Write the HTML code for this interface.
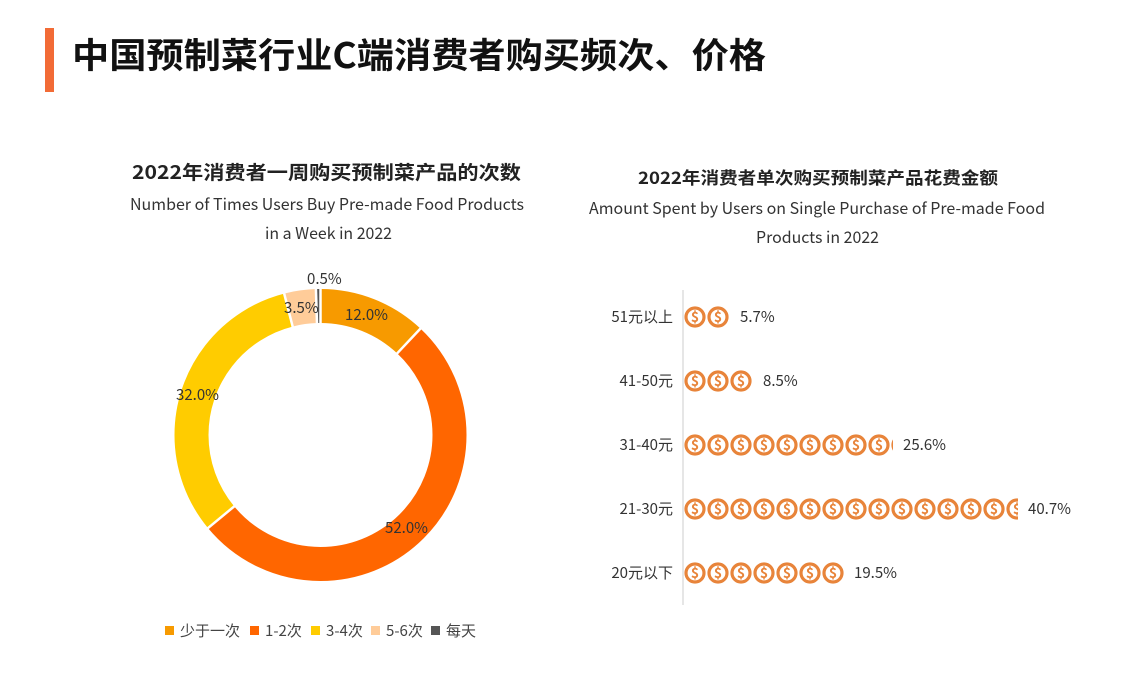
<!DOCTYPE html>
<html><head><meta charset="utf-8"><style>
body{margin:0;background:#fff;}
svg{display:block;font-family:"Noto Sans CJK SC","Liberation Sans",sans-serif;}
</style></head><body>
<svg width="1133" height="685" viewBox="0 0 1133 685" xmlns="http://www.w3.org/2000/svg">
<defs>
<clipPath id="c3"><rect x="680" y="430" width="213" height="30"/></clipPath>
<clipPath id="c4"><rect x="680" y="494" width="338" height="30"/></clipPath>
</defs>
<rect x="45" y="28" width="9" height="64" fill="#f26b36"/>
<text x="72" y="68" font-size="35" font-weight="bold" fill="#111" textLength="694" lengthAdjust="spacingAndGlyphs">中国预制菜行业C端消费者购买频次、价格</text>

<text x="132" y="179" font-size="19" font-weight="bold" fill="#222" textLength="389" lengthAdjust="spacingAndGlyphs">2022年消费者一周购买预制菜产品的次数</text>
<text x="130" y="210" font-size="16" fill="#333" textLength="394" lengthAdjust="spacingAndGlyphs">Number of Times Users Buy Pre-made Food Products</text>
<text x="265" y="239" font-size="16" fill="#333" textLength="127" lengthAdjust="spacingAndGlyphs">in a Week in 2022</text>

<g transform="translate(320.5,435) rotate(-90)" fill="none" stroke-width="34">
<circle r="129" stroke="#f79a00" stroke-dasharray="97.26 810.53" stroke-dashoffset="0"/>
<circle r="129" stroke="#ff6600" stroke-dasharray="421.48 810.53" stroke-dashoffset="-97.26"/>
<circle r="129" stroke="#ffcc00" stroke-dasharray="259.37 810.53" stroke-dashoffset="-518.74"/>
<circle r="129" stroke="#ffcc99" stroke-dasharray="28.37 810.53" stroke-dashoffset="-778.11"/>
<circle r="129" stroke="#555" stroke-dasharray="4.05 810.53" stroke-dashoffset="-806.48"/>
</g>
<g transform="translate(320.5,435)" stroke="#fff" stroke-width="2.5">
<line x1="0" y1="-110" x2="0" y2="-148"/>
<line x1="0" y1="-110" x2="0" y2="-148" transform="rotate(43.2)"/>
<line x1="0" y1="-110" x2="0" y2="-148" transform="rotate(230.4)"/>
<line x1="0" y1="-110" x2="0" y2="-148" transform="rotate(345.6)"/>
<line x1="0" y1="-110" x2="0" y2="-148" transform="rotate(358.2)"/>
</g>
<g font-size="15" fill="#333">
<text x="307" y="284">0.5%</text>
<text x="284" y="313">3.5%</text>
<text x="345" y="320">12.0%</text>
<text x="176" y="400">32.0%</text>
<text x="385" y="533">52.0%</text>
</g>
<g font-size="15" fill="#444">
<rect x="165" y="626" width="9" height="9" fill="#f79a00"/><text x="180" y="636">少于一次</text>
<rect x="250" y="626" width="9" height="9" fill="#ff6600"/><text x="265" y="636">1-2次</text>
<rect x="311" y="626" width="9" height="9" fill="#ffcc00"/><text x="326" y="636">3-4次</text>
<rect x="371" y="626" width="9" height="9" fill="#ffcc99"/><text x="386" y="636">5-6次</text>
<rect x="431" y="626" width="9" height="9" fill="#555"/><text x="446" y="636">每天</text>
</g>

<text x="638" y="184" font-size="17" font-weight="bold" fill="#222" textLength="360" lengthAdjust="spacingAndGlyphs">2022年消费者单次购买预制菜产品花费金额</text>
<text x="589" y="214" font-size="16" fill="#333" textLength="456" lengthAdjust="spacingAndGlyphs">Amount Spent by Users on Single Purchase of Pre-made Food</text>
<text x="756" y="243" font-size="16" fill="#333" textLength="123" lengthAdjust="spacingAndGlyphs">Products in 2022</text>
<line x1="683" y1="290" x2="683" y2="605" stroke="#ccc" stroke-width="1"/>
<g font-size="15" fill="#333" text-anchor="end">
<text x="673" y="322">51元以上</text>
<text x="673" y="386">41-50元</text>
<text x="673" y="450">31-40元</text>
<text x="673" y="514">21-30元</text>
<text x="673" y="578">20元以下</text>
</g>
<g font-size="15" fill="#333">
<text x="740" y="322">5.7%</text>
<text x="763" y="386">8.5%</text>
<text x="903" y="450">25.6%</text>
<text x="1028" y="514">40.7%</text>
<text x="854" y="578">19.5%</text>
</g>
<g fill="#fff" stroke="#e8843a" stroke-width="3.2">
<g transform="translate(0,317)"><circle cx="695" r="9"/><circle cx="718" r="9"/></g>
<g transform="translate(0,381)"><circle cx="695" r="9"/><circle cx="718" r="9"/><circle cx="741" r="9"/></g>
<g clip-path="url(#c3)"><g transform="translate(0,445)"><circle cx="695" r="9"/><circle cx="718" r="9"/><circle cx="741" r="9"/><circle cx="764" r="9"/><circle cx="787" r="9"/><circle cx="810" r="9"/><circle cx="833" r="9"/><circle cx="856" r="9"/><circle cx="879" r="9"/><circle cx="902" r="9"/></g></g>
<g clip-path="url(#c4)"><g transform="translate(0,509)"><circle cx="695" r="9"/><circle cx="718" r="9"/><circle cx="741" r="9"/><circle cx="764" r="9"/><circle cx="787" r="9"/><circle cx="810" r="9"/><circle cx="833" r="9"/><circle cx="856" r="9"/><circle cx="879" r="9"/><circle cx="902" r="9"/><circle cx="925" r="9"/><circle cx="948" r="9"/><circle cx="971" r="9"/><circle cx="994" r="9"/><circle cx="1017" r="9"/></g></g>
<g transform="translate(0,573)"><circle cx="695" r="9"/><circle cx="718" r="9"/><circle cx="741" r="9"/><circle cx="764" r="9"/><circle cx="787" r="9"/><circle cx="810" r="9"/><circle cx="833" r="9"/></g>
</g>
<g fill="#e8843a" font-size="14" font-weight="bold" text-anchor="middle">
<g transform="translate(0,322)"><text x="695">$</text><text x="718">$</text></g>
<g transform="translate(0,386)"><text x="695">$</text><text x="718">$</text><text x="741">$</text></g>
<g clip-path="url(#c3)"><g transform="translate(0,450)"><text x="695">$</text><text x="718">$</text><text x="741">$</text><text x="764">$</text><text x="787">$</text><text x="810">$</text><text x="833">$</text><text x="856">$</text><text x="879">$</text><text x="902">$</text></g></g>
<g clip-path="url(#c4)"><g transform="translate(0,514)"><text x="695">$</text><text x="718">$</text><text x="741">$</text><text x="764">$</text><text x="787">$</text><text x="810">$</text><text x="833">$</text><text x="856">$</text><text x="879">$</text><text x="902">$</text><text x="925">$</text><text x="948">$</text><text x="971">$</text><text x="994">$</text><text x="1017">$</text></g></g>
<g transform="translate(0,578)"><text x="695">$</text><text x="718">$</text><text x="741">$</text><text x="764">$</text><text x="787">$</text><text x="810">$</text><text x="833">$</text></g>
</g>
</svg>
</body></html>
